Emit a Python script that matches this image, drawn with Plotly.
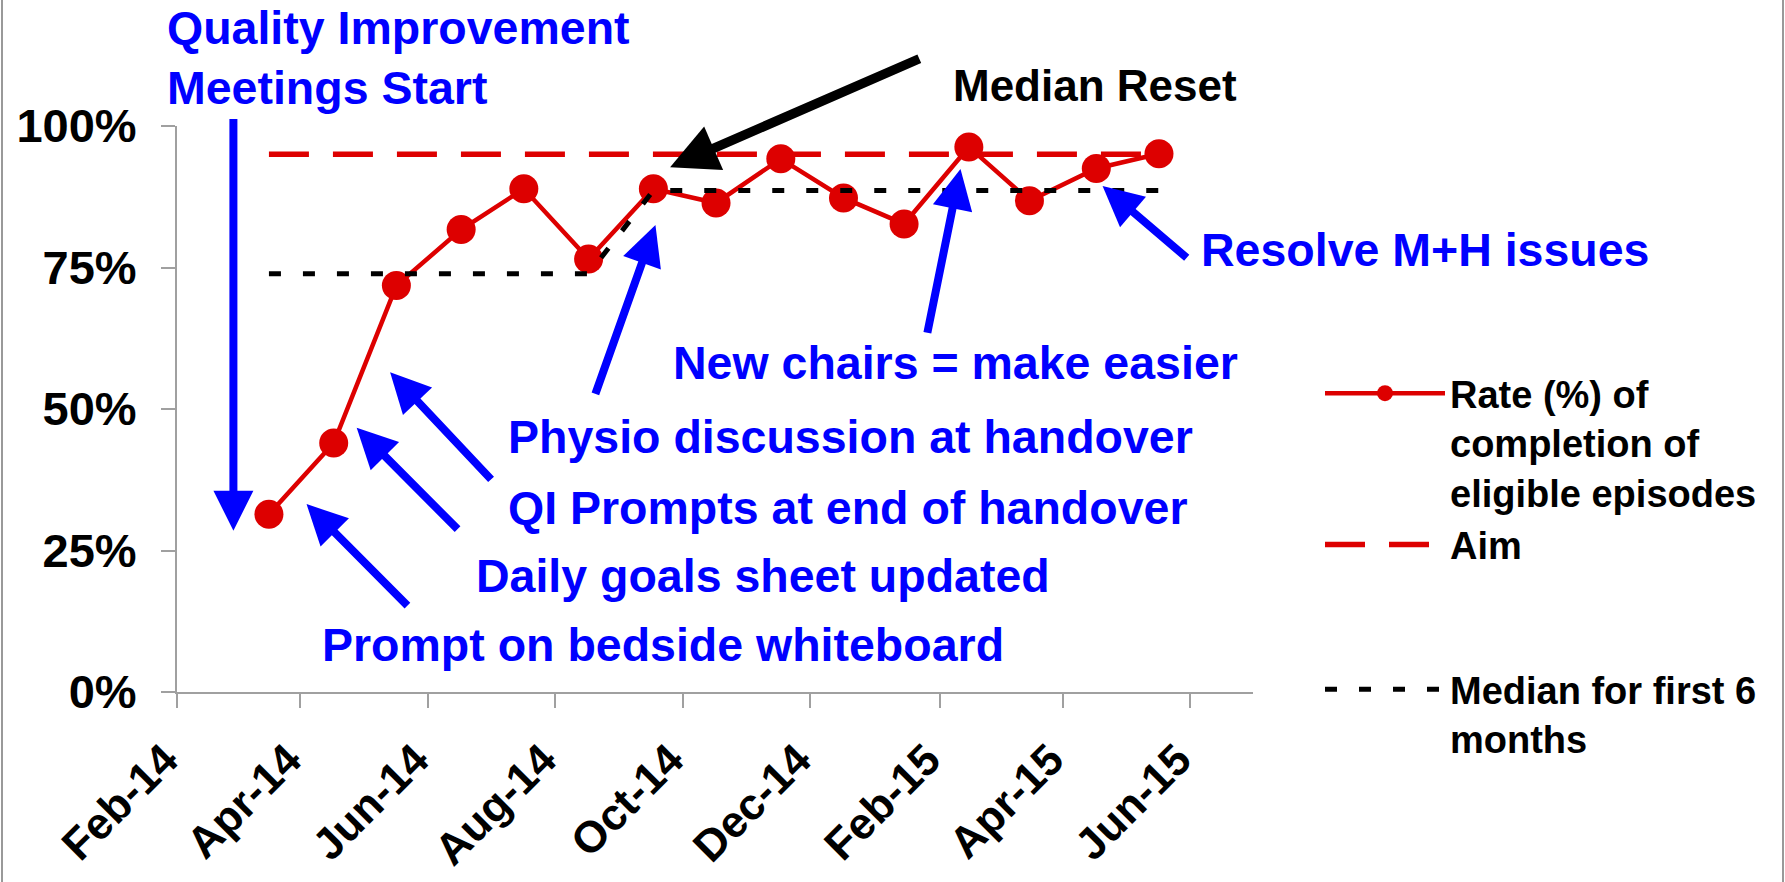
import plotly.graph_objects as go

# ---------------- data ----------------
months = ["2014-03-17", "2014-04-17", "2014-05-17", "2014-06-17", "2014-07-17",
          "2014-08-17", "2014-09-17", "2014-10-17", "2014-11-17", "2014-12-17",
          "2015-01-15", "2015-02-15", "2015-03-16", "2015-04-17", "2015-05-17"]
rate = [31.4, 44.0, 71.8, 81.7, 88.9, 76.5, 88.9, 86.4, 94.2, 87.3,
        82.7, 96.3, 86.8, 92.5, 95.1]
aim = [95, 95, 95, 95, 95, 95, 95, 95, 95, 95, 95, 95, 95, 95, 95]
median = [73.9, 73.9, 73.9, 73.9, 73.9, 73.9, 88.6, 88.6, 88.6, 88.6,
          88.6, 88.6, 88.6, 88.6, 88.6]
y_ticks = [0, 25, 50, 75, 100]
y_tick_labels = ["0%", "25%", "50%", "75%", "100%"]

RED = "#DD0000"
BLUE = "#0000FF"
FONT = "Liberation Sans, Arial, sans-serif"

# plot-area geometry (pixels of the 1785x882 canvas)
W, H = 1785, 882
PX_L, PX_R, PX_T, PX_B = 177, 1253, 126, 692


def px_x(px):
    return (px - PX_L) / (PX_R - PX_L)


def px_y(py):
    return (PX_B - py) / (PX_B - PX_T)


fig = go.Figure()

fig.add_trace(go.Scatter(
    x=months, y=aim, mode="lines", name="Aim",
    line=dict(color=RED, width=5.5, dash="40px,24px"),
    legend="legend", legendrank=2, hoverinfo="skip"))

fig.add_trace(go.Scatter(
    x=months, y=rate, mode="lines+markers",
    name="Rate (%) of<br>completion of<br>eligible episodes",
    line=dict(color=RED, width=4.5),
    marker=dict(color=RED, size=29),
    legend="legend", legendrank=1, cliponaxis=False))

fig.add_trace(go.Scatter(
    x=months, y=median, mode="lines", name="Median for first 6<br>months",
    line=dict(color="black", width=5, dash="12px,22px"),
    legend="legend2", hoverinfo="skip"))

# ---------------- annotations ----------------
ann = []


def text(label, px, py, size=46.5, color=BLUE):
    ann.append(dict(text=label, xref="paper", yref="paper", x=px_x(px), y=px_y(py),
                    xanchor="left", yanchor="middle", align="left", showarrow=False,
                    font=dict(size=size, color=color, family=FONT, weight="bold")))


def arrow(tail, head, color=BLUE, width=8, size=1.0):
    ann.append(dict(text="", x=head[0], y=head[1], ax=tail[0], ay=tail[1],
                    xref="x", yref="y", axref="x", ayref="y", showarrow=True,
                    arrowhead=2, arrowsize=size, arrowwidth=width, arrowcolor=color,
                    standoff=0, startstandoff=0))


text("Quality Improvement<br>Meetings Start", 165, 58)
text("Median Reset", 951, 86, size=44, color="black")
text("Resolve M+H issues", 1199, 250)
text("New chairs = make easier", 671, 363)
text("Physio discussion at handover", 506, 437)
text("QI Prompts at end of handover", 506, 508)
text("Daily goals sheet updated", 474, 576)
text("Prompt on bedside whiteboard", 320, 645)

arrow(("2014-02-28", 101.5), ("2014-02-28", 28.5))
arrow(("2014-05-23", 15.0), ("2014-04-04", 33.2))
arrow(("2014-06-16", 28.5), ("2014-04-28", 46.7))
arrow(("2014-07-02", 37.3), ("2014-05-14", 56.5))
arrow(("2014-08-20", 52.4), ("2014-09-18", 82.5))
arrow(("2015-01-26", 63.2), ("2015-02-11", 92.4))
arrow(("2015-05-31", 76.5), ("2015-04-20", 89.4))
arrow(("2015-01-23", 112.0), ("2014-09-25", 92.7), color="black", width=9.5)

fig.update_layout(
    width=W, height=H,
    margin=dict(l=PX_L, r=W - PX_R, t=PX_T, b=H - PX_B, pad=0),
    paper_bgcolor="white", plot_bgcolor="white",
    font=dict(family=FONT, color="black", weight="bold"),
    annotations=ann,
    showlegend=True,
    legend=dict(x=px_x(1320), y=px_y(362), xanchor="left", yanchor="top",
                xref="paper", yref="paper",
                font=dict(size=38, family=FONT, color="black", weight="bold"),
                valign="top", itemwidth=120, bgcolor="rgba(0,0,0,0)",
                traceorder="normal", tracegroupgap=0),
    legend2=dict(x=px_x(1320), y=px_y(658), xanchor="left", yanchor="top",
                 xref="paper", yref="paper",
                 font=dict(size=38, family=FONT, color="black", weight="bold"),
                 valign="top", itemwidth=120, bgcolor="rgba(0,0,0,0)"),
    shapes=[
        dict(type="line", xref="paper", yref="paper", x0=px_x(2), x1=px_x(2),
             y0=px_y(0), y1=px_y(H), line=dict(color="#999999", width=2)),
        dict(type="line", xref="paper", yref="paper", x0=px_x(1783), x1=px_x(1783),
             y0=px_y(0), y1=px_y(H), line=dict(color="#999999", width=2)),
    ],
)

fig.update_xaxes(
    type="date", range=["2014-02-01", "2015-07-01"],
    tick0="2014-02-01", dtick="M2", tickformat="%b-%y",
    tickangle=-45, ticks="outside", ticklen=14, tickwidth=2, tickcolor="#A0A0A0",
    showline=True, linecolor="#A0A0A0", linewidth=2, showgrid=False, zeroline=False,
    tickfont=dict(size=44, family=FONT, color="black", weight="bold"),
    ticklabelstandoff=8, ticklabelshift=-12, automargin=False, fixedrange=True)

fig.update_yaxes(
    range=[0, 100], tickvals=y_ticks, ticktext=y_tick_labels,
    ticks="outside", ticklen=14, tickwidth=2, tickcolor="#A0A0A0",
    showline=True, linecolor="#A0A0A0", linewidth=2, showgrid=False, zeroline=False,
    tickfont=dict(size=47, family=FONT, color="black", weight="bold"),
    ticklabelstandoff=15, automargin=False, fixedrange=True)

fig.write_html("out.html", config={"displayModeBar": False},
               post_script="document.body.style.margin='0';")
